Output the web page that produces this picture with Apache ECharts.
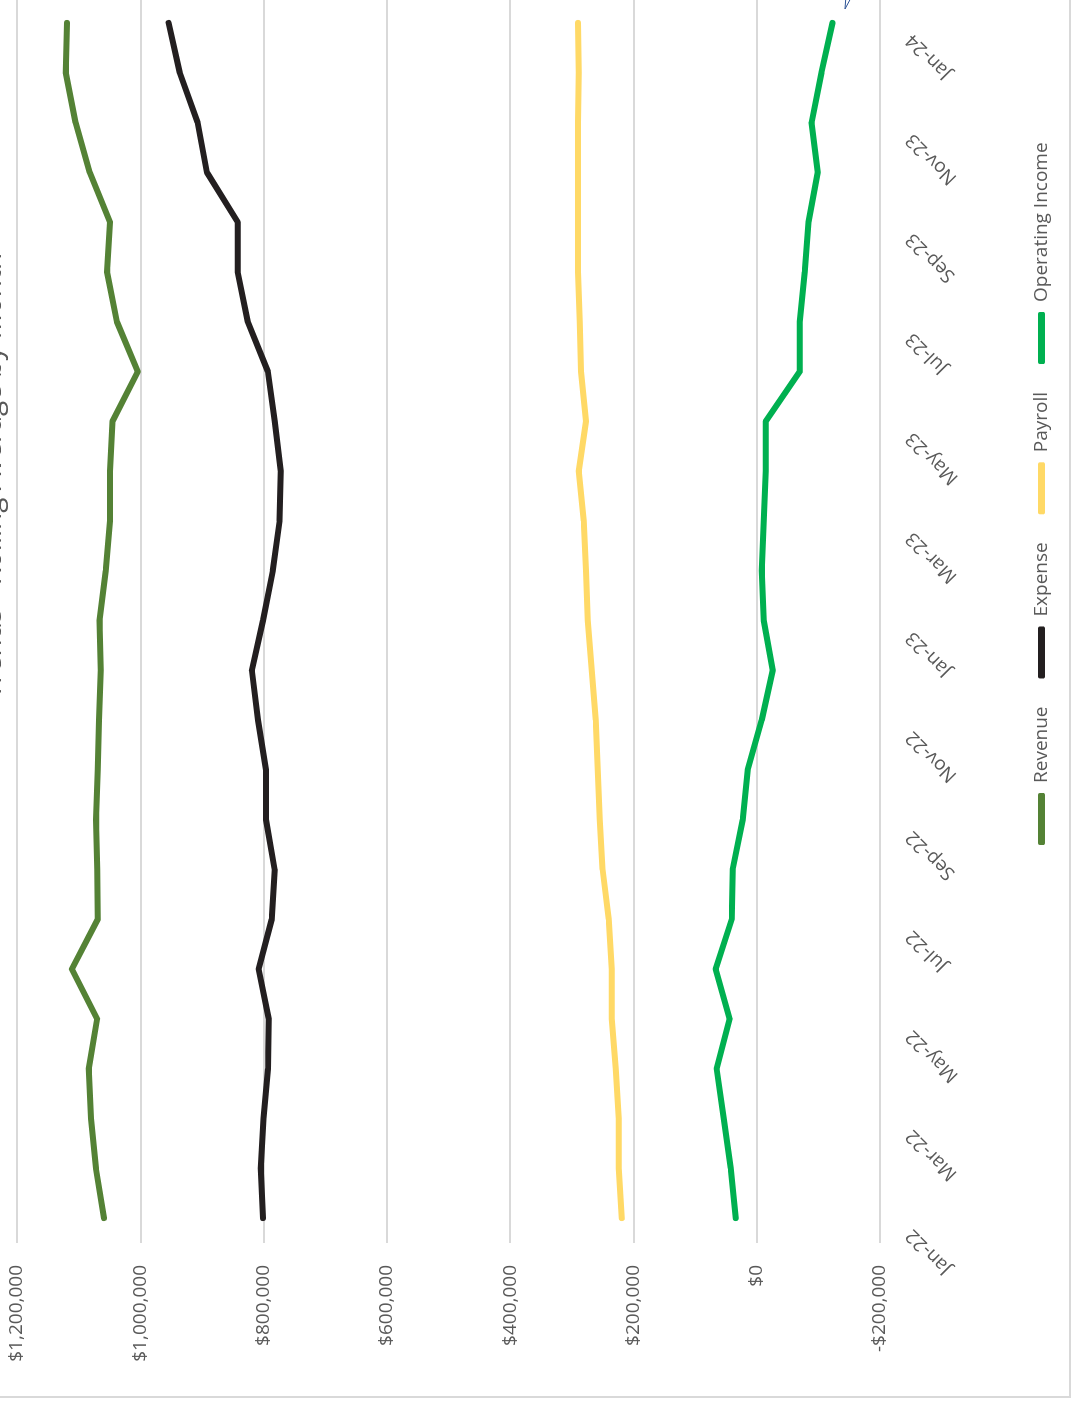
<!DOCTYPE html>
<html>
<head>
<meta charset="utf-8">
<script src="https://cdn.jsdelivr.net/npm/echarts@6/dist/echarts.min.js"></script>
<style>
  html, body { margin: 0; padding: 0; background: #ffffff; overflow: hidden; }
  body { width: 1076px; height: 1401px; position: relative; }
  /* The chart is laid out landscape and turned a quarter turn counter-clockwise */
  #chart {
    position: absolute; left: 0; top: 0;
    width: 1460px; height: 1116px;
    transform-origin: 0 0;
    transform: translate(-40px, 1401px) rotate(-90deg);
  }
</style>
</head>
<body>
<div id="chart"></div>
<script>
const months = ['Jan-22','Feb-22','Mar-22','Apr-22','May-22','Jun-22','Jul-22','Aug-22','Sep-22','Oct-22','Nov-22','Dec-22',
                'Jan-23','Feb-23','Mar-23','Apr-23','May-23','Jun-23','Jul-23','Aug-23','Sep-23','Oct-23','Nov-23','Dec-23','Jan-24'];

const revenue = [1059000, 1072000, 1080000, 1083600, 1070000, 1111000, 1069000, 1070000, 1072000, 1069000, 1067000, 1064000,
                 1066000, 1056000, 1049000, 1049000, 1045000, 1004000, 1038000, 1054000, 1049000, 1082000, 1105000, 1121000, 1119000];

const expense = [801000, 804500, 800000, 793000, 791500, 808000, 786700, 782000, 796000, 796000, 809000, 819000,
                 801000, 785000, 774000, 772000, 782000, 793000, 825600, 842000, 842000, 892000, 907000, 936000, 954000];

const payroll = [219000, 224000, 224000, 228700, 235000, 235000, 240000, 250000, 254600, 258000, 261000, 267600,
                 274000, 277000, 280600, 288700, 277000, 285000, 287000, 290000, 290000, 290000, 290000, 288700, 290000];

const operatingIncome = [34000, 42000, 53500, 65000, 43800, 66500, 40500, 39000, 22700, 14600, -8100, -26000,
                         -11400, -8100, -11400, -14600, -14600, -69700, -69700, -78000, -84000, -99000, -89000, -105000, -123000];

const valueMin = -200000;
const valueMax = 1200000;
const valueStep = 200000;

const titleText = 'Trends - Rolling Average by Month';

const FONT = '"Open Sans", "Liberation Sans", sans-serif';
const TEXT_GREY = '#595959';
const GRID_GREY = '#d9d9d9';

function money(v) {
  const s = '$' + Math.abs(v).toLocaleString('en-US');
  return v < 0 ? '-' + s : s;
}

function lineSeries(name, data, color) {
  return {
    name: name,
    type: 'line',
    data: data,
    symbol: 'none',
    color: color,
    lineStyle: { width: 6, color: color, cap: 'round', join: 'round' },
    emphasis: { disabled: true }
  };
}

const chart = echarts.init(document.getElementById('chart'), null, { renderer: 'canvas' });

chart.setOption({
  animation: false,
  backgroundColor: '#ffffff',
  textStyle: { fontFamily: FONT },
  grid: { left: 158, right: 57, top: 57, bottom: 196, containLabel: false },
  xAxis: {
    type: 'category',
    data: months,
    boundaryGap: true,
    axisLine: { show: false },
    axisTick: { show: false },
    splitLine: { show: false },
    axisLabel: {
      interval: 1,
      rotate: 45,
      margin: 15,
      padding: [0, 20, 0, 0],
      color: TEXT_GREY,
      fontSize: 19,
      fontFamily: FONT
    }
  },
  yAxis: {
    type: 'value',
    min: valueMin,
    max: valueMax,
    interval: valueStep,
    axisLine: { show: false },
    axisTick: { show: false },
    splitLine: { show: true, lineStyle: { color: GRID_GREY, width: 2 } },
    axisLabel: {
      margin: 22,
      color: TEXT_GREY,
      fontSize: 19,
      fontFamily: FONT,
      formatter: money
    }
  },
  legend: {
    left: 556,
    top: 1072,
    orient: 'horizontal',
    icon: 'roundRect',
    itemWidth: 52,
    itemHeight: 7,
    itemGap: 28,
    padding: 0,
    textStyle: { color: TEXT_GREY, fontSize: 19, fontFamily: FONT, padding: [0, 0, 0, 5] },
    data: ['Revenue', 'Expense', 'Payroll', 'Operating Income']
  },
  series: [
    lineSeries('Revenue', revenue, '#548235'),
    lineSeries('Expense', expense, '#231f20'),
    lineSeries('Payroll', payroll, '#ffd966'),
    lineSeries('Operating Income', operatingIncome, '#00b050')
  ],
  graphic: [
    {
      type: 'rect',
      silent: true,
      z: -10,
      shape: { x: 4, y: -200, width: 2000, height: 1310 },
      style: { fill: 'none', stroke: GRID_GREY, lineWidth: 2 }
    },
    {
      type: 'text',
      silent: true,
      x: 925,
      y: 47.5,
      style: {
        text: titleText,
        font: '28px ' + FONT,
        fill: TEXT_GREY,
        align: 'center',
        verticalAlign: 'bottom'
      }
    },
    {
      type: 'polygon',
      silent: true,
      shape: { points: [[1392, 885], [1420, 887], [1420, 900]] },
      style: { fill: '#ffffff', stroke: '#2f5597', lineWidth: 1 }
    }
  ]
});
</script>
</body>
</html>
